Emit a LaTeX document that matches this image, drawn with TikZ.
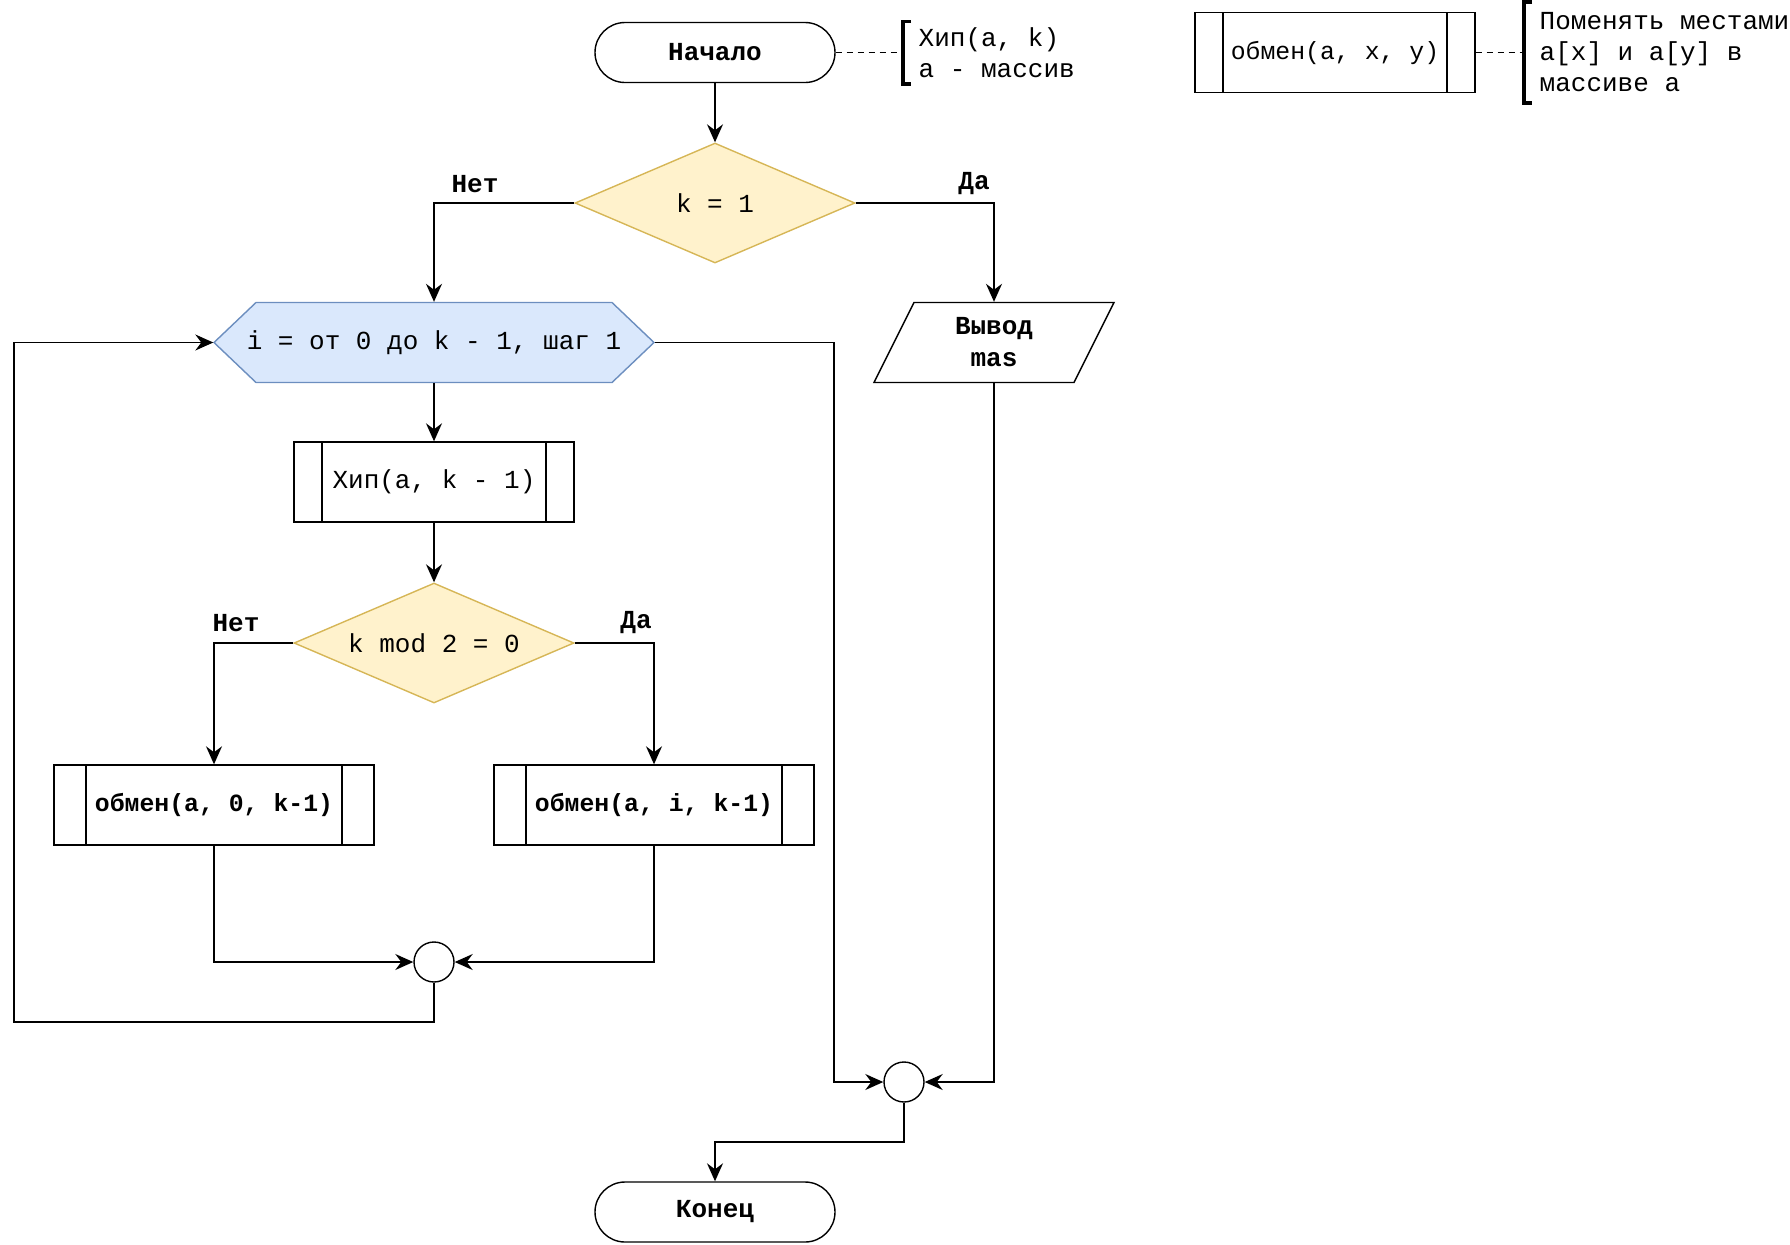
\documentclass[tikz,border=0pt]{standalone}
\usepackage{fontspec}
\setmainfont{Liberation Mono}
\usetikzlibrary{arrows.meta,shapes.geometric}
\definecolor{decisionfill}{HTML}{FFF2CC}
\definecolor{decisiondraw}{HTML}{D6B656}
\definecolor{loopfill}{HTML}{DAE8FC}
\definecolor{loopdraw}{HTML}{6C8EBF}
\newcommand{\chartfont}{\fontsize{13}{15.5}\selectfont}
\tikzset{
  terminal/.style={draw,rounded corners=15pt,minimum width=120pt,minimum height=30pt,font=\chartfont\bfseries},
  decision/.style={diamond,draw=decisiondraw,fill=decisionfill,inner sep=0pt,minimum width=140pt,minimum height=60pt},
  subproc/.style={draw,minimum height=40pt,inner xsep=0pt,path picture={
    \draw ([xshift=#1]path picture bounding box.north west)--([xshift=#1]path picture bounding box.south west)
          ([xshift=-#1]path picture bounding box.north east)--([xshift=-#1]path picture bounding box.south east);}},
  junction/.style={circle,draw,minimum size=20pt,inner sep=0pt},
  branch/.style={font=\chartfont\bfseries},
  link/.style={-{Stealth[length=9pt,width=8pt,inset=3pt]}},
  note/.style={anchor=west,align=left,inner xsep=7.5pt,inner ysep=0pt},
  notelink/.style={line width=.8pt,dash pattern=on 3pt off 2.5pt},
  bracket/.style={line width=1.8pt}
}
\begin{document}
\begin{tikzpicture}[x=.5pt,y=-.5pt,line width=.7pt,every node/.style={font=\chartfont}]
  \useasboundingbox (0,0) rectangle (1790,1244);
  \node[terminal] (start) at (715,52.5) {Начало};
  \node[decision] (k1) at (715,203) {\makebox[0pt]{k = 1}};
  \fill[loopfill] (214,342.5)--(256,302.5)--(612,302.5)--(654,342.5)--(612,382.5)--(256,382.5)--cycle;
  \draw[loopdraw] (214,342.5)--(256,302.5)--(612,302.5)--(654,342.5)--(612,382.5)--(256,382.5)--cycle;
  \node[minimum width=220pt,minimum height=40pt] (cycle) at (434,342.5) {i = от 0 до k - 1, шаг 1};
  \draw (914,302.5)--(1114,302.5)--(1074,382.5)--(874,382.5)--cycle;
  \node[minimum width=100pt,minimum height=40pt,align=center,font=\fontsize{13}{16}\selectfont\bfseries] (out) at (994,342.5) {Вывод\\mas};
  \node[subproc=14pt,minimum width=140pt] (heap) at (434,482) {Хип(a, k - 1)};
  \node[decision] (mod) at (434,643) {\makebox[0pt]{k mod 2 = 0}};
  \node[subproc=16pt,minimum width=160pt,font=\fontsize{12.4}{15}\selectfont\bfseries] (swapA) at (214,805) {обмен(a, 0, k-1)};
  \node[subproc=16pt,minimum width=160pt,font=\fontsize{12.4}{15}\selectfont\bfseries] (swapB) at (654,805) {обмен(a, i, k-1)};
  \node[junction] (j1) at (434,962) {};
  \node[junction] (j2) at (904,1082) {};
  \node[terminal] (stop) at (715,1212) {Конец};
  \node[branch] (noA) at (475,184) {Нет};
  \node[branch] (yesA) at (974,184) {Да};
  \node[branch] (noB) at (236,623) {Нет};
  \node[branch] (yesB) at (636,623) {Да};
  \coordinate (loopturn) at (14,1022);
  \coordinate (exitturn) at (834,1082);
  \coordinate (endturn) at (715,1142);
  \draw[link] (start) -- (k1);
  \draw[link] (k1.west) -| (cycle.north);
  \draw[link] (k1.east) -| (out.north);
  \draw[link] (cycle) -- (heap);
  \draw[link] (heap) -- (mod);
  \draw[link] (mod.west) -| (swapA.north);
  \draw[link] (mod.east) -| (swapB.north);
  \draw[link] (swapA.south) |- (j1.west);
  \draw[link] (swapB.south) |- (j1.east);
  \draw[link] (j1.south) |- (loopturn) |- (cycle.west);
  \draw[link] (cycle.east) -| (exitturn) -- (j2.west);
  \draw[link] (out.south) |- (j2.east);
  \draw[link] (j2.south) |- (endturn) -| (stop.north);
  \node[note,minimum height=30.5pt] (noteA) at (903,52.5) {Хип(a, k)\\a - массив};
  \draw[notelink] (start.east) -- (noteA.west);
  \draw[bracket] ([xshift=4pt]noteA.north west) -- (noteA.north west) -- (noteA.south west) -- ([xshift=4pt]noteA.south west);
  \node[subproc=14pt,minimum width=140pt,font=\fontsize{12.4}{15}\selectfont] (swapdef) at (1335,52.5) {обмен(a, x, y)};
  \node[note,minimum height=49.6pt] (noteB) at (1524,52.5) {Поменять местами\\a[x] и a[y] в\\массиве a};
  \draw[notelink] (swapdef.east) -- (noteB.west);
  \draw[bracket] ([xshift=4pt]noteB.north west) -- (noteB.north west) -- (noteB.south west) -- ([xshift=4pt]noteB.south west);
\end{tikzpicture}
\end{document}
